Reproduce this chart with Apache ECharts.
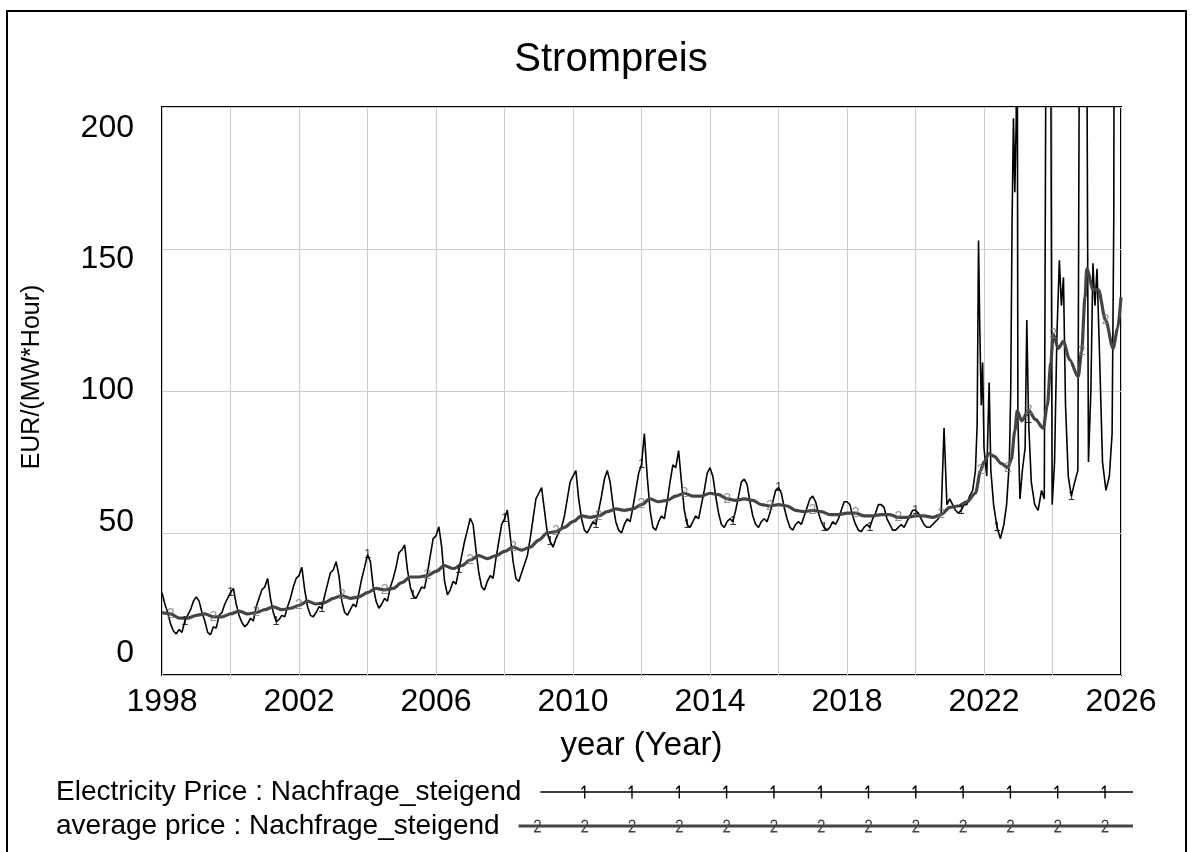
<!DOCTYPE html>
<html>
<head>
<meta charset="utf-8">
<title>Strompreis</title>
<script src="https://cdn.jsdelivr.net/npm/echarts@6/dist/echarts.min.js"></script>
<style>
  html, body { margin: 0; padding: 0; background: #fff; }
  #chart { width: 1193px; height: 852px; }
</style>
</head>
<body>
<div id="chart"></div>
<script>
var FONT = "'Liberation Sans', Arial, Helvetica, sans-serif";

// axis labels
var yearLabels = [1998, 2002, 2006, 2010, 2014, 2018, 2022, 2026];
var yTickLabels = [0, 50, 100, 150, 200];

// Electricity Price, monthly values (Jan..Dec)
var price1998_2003 = [
  29, 25, 22, 18, 15.5, 14.5, 16, 15, 19, 21, 23, 26,
  27.5, 26, 22, 19, 15, 14.2, 17, 16.5, 21, 22, 25, 27,
  29, 30.5, 25, 21, 18.5, 17, 18, 20, 19, 24, 27, 30,
  31, 34, 27, 22, 18.8, 19.5, 21, 20.5, 24, 27, 31, 34,
  35, 37.9, 30, 24, 21, 20.5, 22, 24, 23.5, 28, 32, 36,
  37, 39.9, 35, 26, 22, 21.1, 23, 25, 24, 29, 34, 38
];
var price2004_2009 = [
  42.3, 40, 31, 26, 23.5, 25, 27, 26, 31, 34, 38, 43,
  44, 45.8, 37, 31, 28, 27, 29, 31, 30.5, 36, 42, 48,
  49, 52.2, 45, 33, 28.2, 30, 33, 32, 37, 42, 47, 51,
  55.2, 53, 44, 36, 31, 29.9, 33, 35, 34, 41, 47, 53,
  55, 58.1, 49, 40, 34, 32.9, 36, 39, 42, 48, 55, 62,
  64, 66, 58, 50, 47, 45, 48, 50, 52, 56, 62, 68
];
var price2010_2015 = [
  70, 72, 62, 55, 51, 50, 52, 54, 53, 58, 63, 69,
  72, 68, 60, 54, 51, 50, 53, 55, 54, 59, 65, 71,
  74, 85, 70, 58, 52, 51, 54, 56, 55, 61, 68, 74,
  73, 79, 68, 58, 53, 52, 54, 56, 55, 60, 65, 71,
  73, 70, 63, 57, 53, 52, 54, 55, 54, 58, 63, 68,
  69, 67, 61, 56, 53, 52, 54, 55, 54, 57, 61, 65
];
var price2016_2021 = [
  66, 64, 59, 55, 52, 51, 53, 54, 53, 56, 59, 62,
  63, 61, 57, 54, 52, 51, 52, 54, 53, 55, 58, 61,
  61, 60, 56, 53, 51, 50.5, 52, 53, 52, 55, 57, 60,
  60, 59, 55, 53, 51, 51, 52, 53, 52, 54, 56, 58,
  58, 57, 55, 53, 52, 52, 53, 54, 55, 57, 87, 60,
  62, 60, 58, 57, 58, 60
];
// from mid 2021 the price gets spiky, so [year, value] pairs
var priceLate = [
  [2021.50, 60], [2021.58, 63], [2021.67, 65], [2021.75, 72], [2021.80, 88],
  [2021.84, 153], [2021.88, 120], [2021.92, 95], [2021.96, 110], [2022.00, 80],
  [2022.08, 70], [2022.15, 103], [2022.20, 72], [2022.28, 60], [2022.38, 52],
  [2022.48, 48], [2022.58, 53], [2022.66, 60], [2022.74, 75], [2022.78, 100],
  [2022.82, 160], [2022.86, 196], [2022.90, 170], [2022.94, 195], [2022.96, 320],
  [2022.99, 90], [2023.05, 62], [2023.12, 72], [2023.20, 80], [2023.25, 125],
  [2023.30, 90], [2023.38, 68], [2023.48, 60], [2023.58, 58], [2023.68, 65],
  [2023.76, 62], [2023.84, 330], [2023.92, 340], [2023.99, 60], [2024.06, 75],
  [2024.13, 120], [2024.20, 146], [2024.26, 130], [2024.32, 140], [2024.38, 95],
  [2024.46, 70], [2024.55, 63], [2024.65, 68], [2024.74, 72], [2024.82, 350],
  [2024.96, 360], [2025.05, 75], [2025.12, 100], [2025.18, 145], [2025.24, 130],
  [2025.30, 143], [2025.38, 110], [2025.46, 75], [2025.56, 65], [2025.66, 70],
  [2025.74, 85], [2025.79, 162], [2025.81, 340], [2025.86, 330], [2025.93, 300],
  [2026.00, 260]
];

// average price
var avg1998_2009 = [
  [1998.00, 22], [1998.25, 21.5], [1998.50, 20], [1998.75, 20], [1999.00, 21],
  [1999.25, 21.5], [1999.50, 20.5], [1999.75, 20.5], [2000.00, 21.5], [2000.25, 22.5],
  [2000.50, 21.5], [2000.75, 22], [2001.00, 23], [2001.25, 24], [2001.50, 23],
  [2001.75, 23.5], [2002.00, 24.5], [2002.25, 26], [2002.50, 25], [2002.75, 25.5],
  [2003.00, 27], [2003.25, 28], [2003.50, 27], [2003.75, 27.5], [2004.00, 29],
  [2004.25, 30.5], [2004.50, 30], [2004.75, 30.5], [2005.00, 32.5], [2005.25, 34.5],
  [2005.50, 34.5], [2005.75, 35], [2006.00, 36.5], [2006.25, 38.5], [2006.50, 37.5],
  [2006.75, 38.5], [2007.00, 40.5], [2007.25, 42], [2007.50, 41], [2007.75, 42],
  [2008.00, 43.5], [2008.25, 45], [2008.50, 44], [2008.75, 45], [2009.00, 47.5],
  [2009.25, 50], [2009.50, 50.5], [2009.75, 52]
];
var avg2010_2021 = [
  [2010.00, 54], [2010.25, 56], [2010.50, 55.5], [2010.75, 56], [2011.00, 57.5],
  [2011.25, 58.5], [2011.50, 58], [2011.75, 58.5], [2012.00, 60], [2012.25, 62],
  [2012.50, 61], [2012.75, 61.5], [2013.00, 63], [2013.25, 64], [2013.50, 63],
  [2013.75, 63], [2014.00, 64], [2014.25, 63.5], [2014.50, 62], [2014.75, 61.5],
  [2015.00, 62], [2015.25, 61.5], [2015.50, 60], [2015.75, 59.5], [2016.00, 60],
  [2016.25, 59.5], [2016.50, 58], [2016.75, 57.5], [2017.00, 58], [2017.25, 57.5],
  [2017.50, 56.5], [2017.75, 56.5], [2018.00, 57], [2018.25, 57], [2018.50, 56],
  [2018.75, 56], [2019.00, 56.5], [2019.25, 56.5], [2019.50, 55.5], [2019.75, 55.5],
  [2020.00, 56], [2020.25, 56], [2020.50, 55.5], [2020.75, 56.5], [2021.00, 59],
  [2021.25, 59.5], [2021.50, 61], [2021.75, 64]
];
var avg2022_2026 = [
  [2021.90, 72], [2022.00, 75], [2022.15, 78], [2022.30, 77], [2022.50, 74.5],
  [2022.70, 73], [2022.80, 76], [2022.90, 86], [2022.97, 93], [2023.10, 89.5],
  [2023.30, 93.3], [2023.50, 90], [2023.73, 86.9], [2023.85, 95], [2023.95, 110],
  [2024.02, 120], [2024.17, 115], [2024.32, 117.5], [2024.50, 111], [2024.75, 105],
  [2024.85, 114], [2024.95, 133], [2025.00, 143], [2025.19, 135.6], [2025.34, 135.6],
  [2025.55, 125], [2025.77, 115], [2025.90, 122], [2026.00, 133]
];

var priceName = 'Electricity Price : Nachfrage_steigend';
var avgName = 'average price : Nachfrage_steigend';

var monthly = [].concat(price1998_2003, price2004_2009, price2010_2015, price2016_2021);
var priceData = monthly.map(function (v, i) { return [1998 + i / 12, v]; }).concat(priceLate);
var avgData = [].concat(avg1998_2009, avg2010_2021, avg2022_2026);

// Vensim style line number marks
var priceMarks = priceData.filter(function (d, i) { return i % 16 === 8 && d[1] < 200; });
var avgMarks = avgData.filter(function (d, i) { return i % 5 === 1; });

function textWidth(str, size) {
  var ctx = document.createElement('canvas').getContext('2d');
  ctx.font = size + 'px ' + FONT;
  return ctx.measureText(str).width;
}

// legend icon: line with digits on it (glyph box 0..13)
function digitOne(c) {
  return 'M' + (c - 0.7) + ' 0H' + (c + 0.7) + 'V13H' + (c - 0.7) + 'Z' +
    'M' + (c - 0.7) + ' 0L' + (c + 0.4) + ' 1L' + (c - 2.8) + ' 4.2L' + (c - 3.6) + ' 3.3Z';
}
function digitTwo(c) {
  var p = [[-3.5, 3.5], [-2.4, 0.7], [0, 0], [2.4, 0.7], [3.5, 3.1], [2.8, 5.9], [-1.6, 11.6], [3.5, 11.6],
    [3.5, 13], [-3.5, 13], [-3.5, 11.8], [1.5, 5.4], [2.1, 3.3], [1.4, 1.8], [0, 1.4], [-1.4, 1.8], [-2.1, 3.8]];
  return p.map(function (q, i) { return (i ? 'L' : 'M') + (c + q[0]) + ' ' + q[1]; }).join('') + 'Z';
}
function legendPath(w, thick, digit) {
  var h0 = 6.5 - thick / 2, h1 = 6.5 + thick / 2;
  var s = 'path://M0 ' + h0 + 'H' + w + 'V' + h1 + 'H0Z';
  for (var c = w - 28; c > 10; c -= 47.3) s += digit(c);
  return s;
}

var legendLeft = 56, lineEnd = 1133, legendSize = 28, legendPad = 14;
var w1 = lineEnd - (legendLeft + textWidth(priceName, legendSize) + 5 + legendPad);
var w2 = lineEnd - (legendLeft + textWidth(avgName, legendSize) + 5 + legendPad);

function makeLegend(name, top, w, icon) {
  return {
    data: [{ name: name, icon: icon }],
    left: legendLeft, top: top, padding: 0,
    orient: 'horizontal', align: 'right',
    itemWidth: w, itemHeight: 13,
    selectedMode: false,
    itemStyle: { borderWidth: 0 },
    textStyle: { fontSize: legendSize, color: '#000', fontFamily: FONT, padding: [0, legendPad, 0, 0] }
  };
}

var chart = echarts.init(document.getElementById('chart'));
chart.setOption({
  animation: false,
  backgroundColor: '#fff',
  title: {
    text: 'Strompreis', left: 606, top: 35, textAlign: 'center',
    textStyle: { fontSize: 40, fontWeight: 'normal', color: '#000', fontFamily: FONT }
  },
  legend: [
    makeLegend(priceName, 778, w1, legendPath(w1, 1.4, digitOne)),
    makeLegend(avgName, 812, w2, legendPath(w2, 3, digitTwo))
  ],
  grid: {
    left: 162, top: 107, width: 959, height: 568,
    show: true, borderColor: '#000', borderWidth: 2, backgroundColor: 'transparent'
  },
  xAxis: {
    type: 'value', min: 1998, max: 2026, interval: 2,
    axisLine: { show: false }, axisTick: { show: false },
    splitLine: { show: true, lineStyle: { color: '#cdcdcd', width: 1 } },
    axisLabel: {
      margin: 11, fontSize: 32, color: '#000', fontFamily: FONT,
      showMinLabel: true, showMaxLabel: true,
      formatter: function (v) { return yearLabels.indexOf(v) >= 0 ? String(v) : ''; }
    },
    name: 'year (Year)', nameLocation: 'middle', nameGap: 54,
    nameTextStyle: { fontSize: 33, color: '#000', fontFamily: FONT }
  },
  yAxis: [
    {
      type: 'value', min: 0, max: 200, interval: 50,
      axisLine: { show: false }, axisTick: { show: false }, axisLabel: { show: false },
      splitLine: { show: true, lineStyle: { color: '#cdcdcd', width: 1 } }
    },
    {
      // label-only axis: Vensim squeezes the labels a bit inside the frame
      type: 'value', position: 'left', min: -8.38, max: 208,
      axisLine: { show: false }, axisTick: { show: false }, splitLine: { show: false },
      axisLabel: { customValues: yTickLabels, margin: 28, fontSize: 32, color: '#000', fontFamily: FONT }
    }
  ],
  graphic: [
    {
      type: 'rect', silent: true,
      shape: { x: 7, y: 11, width: 1179, height: 900 },
      style: { fill: 'none', stroke: '#000', lineWidth: 2 }
    },
    {
      type: 'text', x: 32, y: 377, rotation: Math.PI / 2, silent: true,
      style: { text: 'EUR/(MW*Hour)', fontSize: 25, fontFamily: FONT, fill: '#000', align: 'center', verticalAlign: 'middle' }
    }
  ],
  series: [
    {
      name: priceName, type: 'line', data: priceData,
      symbol: 'none', color: '#000',
      lineStyle: { width: 1.6, color: '#000' }, z: 3
    },
    {
      name: avgName, type: 'line', data: avgData,
      symbol: 'none', smooth: 0.3, smoothMonotone: 'x', color: '#444',
      lineStyle: { width: 3.2, color: '#444' }, z: 4
    },
    {
      type: 'scatter', data: priceMarks, symbolSize: 0, z: 5, silent: true,
      label: { show: true, position: 'inside', formatter: '1', fontSize: 13, color: '#000', fontFamily: FONT }
    },
    {
      type: 'scatter', data: avgMarks, symbolSize: 0, z: 5, silent: true,
      label: { show: true, position: 'inside', formatter: '2', fontSize: 14, color: '#777', fontFamily: FONT }
    }
  ]
});
</script>
</body>
</html>
